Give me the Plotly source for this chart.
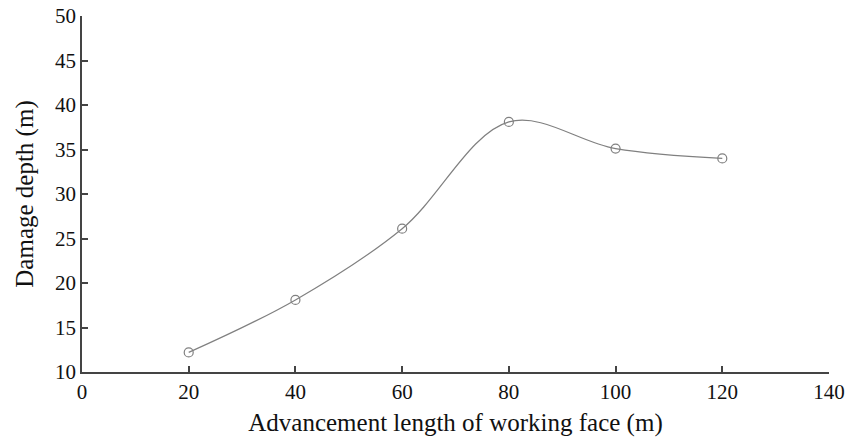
import plotly.graph_objects as go

x_vals = [20, 40, 60, 80, 100, 120]
depth = [12.2, 18.1, 26.1, 38.1, 35.1, 34.0]
x_ticks = [0, 20, 40, 60, 80, 100, 120, 140]
y_ticks = [10, 15, 20, 25, 30, 35, 40, 45, 50]

fig = go.Figure()
fig.add_trace(go.Scatter(
    x=x_vals, y=depth, mode="lines+markers",
    line=dict(color="#808080", width=1.2, shape="spline", smoothing=1.0),
    marker=dict(symbol="circle-open", size=9, color="#808080", line=dict(width=1.2)),
    showlegend=False,
))

font = dict(family="Liberation Serif, Times New Roman, serif", color="#111111")
fig.update_layout(
    width=861, height=440,
    margin=dict(l=82, r=32, t=16, b=68),
    paper_bgcolor="white", plot_bgcolor="white",
    font=dict(**font, size=21),
    xaxis=dict(
        range=[0, 140], tickvals=x_ticks, ticks="inside", ticklen=6, tickwidth=1.5,
        tickcolor="#444", showline=True, linecolor="#444", linewidth=1.5,
        showgrid=False, zeroline=False, tickfont=dict(size=21), automargin=False,
        title=dict(text="Advancement length of working face (m)", font=dict(size=25), standoff=11),
    ),
    yaxis=dict(
        range=[10, 50], tickvals=y_ticks, ticks="inside", ticklen=6, tickwidth=1.5,
        tickcolor="#444", showline=True, linecolor="#444", linewidth=1.5,
        showgrid=False, zeroline=False, tickfont=dict(size=21), automargin=False,
        title=dict(text="Damage depth (m)", font=dict(size=25), standoff=14),
    ),
)
fig.write_html(
    "out.html",
    config={"displayModeBar": False},
    post_script="document.body.style.margin='0';document.body.style.overflow='hidden';",
)
